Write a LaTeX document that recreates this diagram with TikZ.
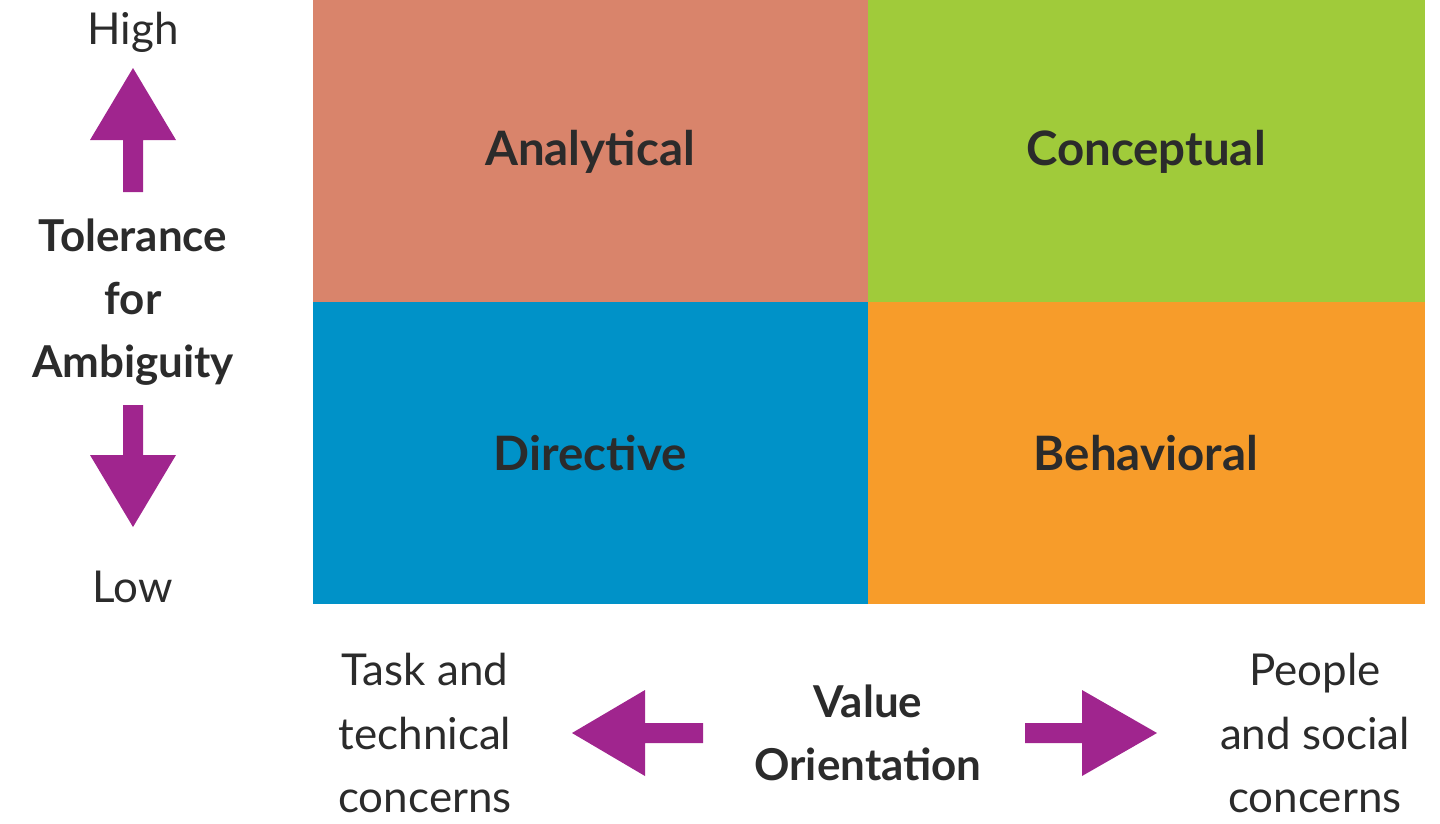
\documentclass[tikz,border=0pt]{standalone}
\usepackage{fontspec}
\setmainfont{Lato}
\definecolor{cA}{HTML}{D9846B}
\definecolor{cC}{HTML}{A0CB3A}
\definecolor{cD}{HTML}{0092C8}
\definecolor{cB}{HTML}{F79C2A}
\definecolor{pur}{HTML}{A0258E}
\definecolor{txt}{HTML}{2B2B2B}
\begin{document}
\begin{tikzpicture}[x=0.02cm,y=-0.02cm,
  quad/.style={text=txt,font=\fontsize{27}{32}\selectfont\bfseries},
  lbl/.style={text=txt,font=\fontsize{25}{36}\selectfont,align=center},
  blbl/.style={text=txt,font=\fontsize{25}{36}\selectfont\bfseries,align=center},
  arr/.style={fill=pur,draw=none}]
\useasboundingbox (0,0) rectangle (1440,823);
\fill[cA] (313,0) rectangle (868,302);
\fill[cC] (868,0) rectangle (1425,302);
\fill[cD] (313,302) rectangle (868,604);
\fill[cB] (868,302) rectangle (1425,604);
\node[quad] (an) at (590,152) {Analytical};
\node[quad] (co) at (1146,152) {Conceptual};
\node[quad] (di) at (590,453) {Directive};
\node[quad] (be) at (1146,453) {Behavioral};
\node[lbl] (hi) at (133,32) {High};
\node[lbl] (lo) at (133,587) {Low};
\node[blbl] (tol) at (133,302) {Tolerance\\for\\Ambiguity};
\node[lbl] (task) at (425,733) {Task and\\technical\\concerns};
\node[blbl] (val) at (868,733) {Value\\Orientation};
\node[lbl] (peo) at (1315,733) {People\\and social\\concerns};
\fill[arr] (123,192) -- (123,140) -- (90,140) -- (133,68) -- (176,140) -- (143,140) -- (143,192) -- cycle;
\fill[arr] (123,405) -- (123,455) -- (90,455) -- (133,527) -- (176,455) -- (143,455) -- (143,405) -- cycle;
\fill[arr] (703,723) -- (645,723) -- (645,690) -- (572,733) -- (645,776) -- (645,743) -- (703,743) -- cycle;
\fill[arr] (1025,723) -- (1082,723) -- (1082,690) -- (1157,733) -- (1082,776) -- (1082,743) -- (1025,743) -- cycle;
\end{tikzpicture}
\end{document}
